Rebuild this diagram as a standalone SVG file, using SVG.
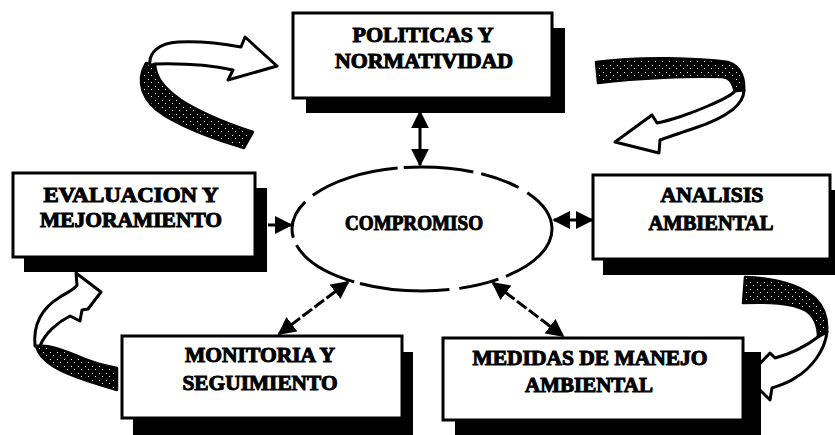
<svg xmlns="http://www.w3.org/2000/svg" width="835" height="435" viewBox="0 0 835 435">
<defs>
<style>
.shadow{fill:#000}
.box{fill:#fff;stroke:#000;stroke-width:3}
.t{font-family:"Liberation Serif","Times New Roman",serif;font-weight:bold;font-size:20px;fill:#000;stroke:#000;stroke-width:1;text-anchor:middle}
.conn{stroke:#000;stroke-width:3;fill:none}
.dash{stroke-dasharray:12 3}
.rib{fill:url(#stip);stroke:#000;stroke-width:2.5;stroke-linejoin:round}
.arr{fill:#fff;stroke:#000;stroke-width:3;stroke-linejoin:round}
</style>
<pattern id="stip" width="7" height="7" patternUnits="userSpaceOnUse">
<rect width="7" height="7" fill="#000"/>
<rect x="1" y="2" width="1" height="1" fill="#fff"/>
<rect x="4" y="5" width="1" height="1" fill="#fff"/>
</pattern>
<marker id="ah" viewBox="0 0 10 10" refX="9" refY="5" markerWidth="18" markerHeight="18" markerUnits="userSpaceOnUse" orient="auto-start-reverse">
<path d="M0,0 L10,5 L0,10 Z" fill="#000"/>
</marker>
</defs>

<g id="curved-arrows">
<g id="loop-top-left">
<path class="rib" d="M146,63 C135,82 142,102 165,116 C190,131 220,141 244,148 L253,132 C226,123 201,113 181,100 C164,88 156,78 155,64 Z"/>
<path class="arr" d="M150,66 C148,52 160,43 178,42 C200,41 225,44 241,47 L245,37 L277,66 L228,80 L233,70 C215,66 195,63 155,64 Z"/>
</g>
<g id="loop-top-right">
<path class="rib" d="M596,62 C640,56 700,58 728,62 C742,66 745,80 744,92 L735,93 C733,83 730,78 722,77 C690,76 640,78 598,83 Z"/>
<path class="arr" d="M744,90 C744,105 725,118 695,128 C680,133 668,137 660,140 L659,153 L615,142 L652,115 L657,123 C668,121 690,114 708,106 C722,100 732,95 735,91 Z"/>
</g>
<g id="loop-bottom-left">
<path class="rib" d="M36,346 C40,362 60,372 85,380 C100,385 110,388 117,390 L117,368 C100,365 86,360 75,355 C60,349 47,345 40,346 Z"/>
<path class="arr" d="M35,346 C33,325 42,308 60,297 C68,292 75,289 77,285 L76,273 L101,292 L88,309 L82,310 L80,321 L70,316 C58,322 45,333 40,346 Z"/>
</g>
<g id="loop-bottom-right">
<path class="rib" d="M745,277 C775,278 800,285 815,298 C825,308 828,320 827,332 L818,337 C818,325 814,316 805,310 C790,303 770,302 743,303 Z"/>
<path class="arr" d="M827,332 C825,350 812,368 795,378 C788,383 778,386 772,388 L770,400 L747,377 L770,353 L775,358 C790,354 805,347 818,337 Z"/>
</g>
</g>

<g id="connectors">
<line class="conn" x1="420" y1="112" x2="420" y2="165" marker-start="url(#ah)" marker-end="url(#ah)"/>
<line class="conn" x1="268" y1="225" x2="291" y2="225" marker-end="url(#ah)"/>
<line class="conn" x1="554" y1="220" x2="592" y2="220" marker-start="url(#ah)" marker-end="url(#ah)"/>
<line class="conn dash" x1="348" y1="282" x2="279" y2="334" marker-start="url(#ah)" marker-end="url(#ah)"/>
<line class="conn dash" x1="493" y1="283" x2="563" y2="336" marker-start="url(#ah)" marker-end="url(#ah)"/>
</g>

<g id="compromiso">
<ellipse cx="422" cy="229" rx="130" ry="62" fill="#fff" stroke="#000" stroke-width="3" stroke-dasharray="70 8 40 10 90 6"/>
<text class="t" x="414" y="230" font-size="18" textLength="138" lengthAdjust="spacingAndGlyphs">COMPROMISO</text>
</g>

<g id="politicas">
<rect class="shadow" x="306" y="28" width="259" height="85"/>
<rect class="box" x="293" y="13" width="259" height="85"/>
<text class="t" x="423" y="42" font-size="22" textLength="141" lengthAdjust="spacingAndGlyphs">POLITICAS Y</text>
<text class="t" x="424" y="68" font-size="22" textLength="178" lengthAdjust="spacingAndGlyphs">NORMATIVIDAD</text>
</g>

<g id="evaluacion">
<rect class="shadow" x="24" y="188" width="243" height="84"/>
<rect class="box" x="13" y="173" width="242" height="84"/>
<text class="t" x="131" y="202" textLength="175" lengthAdjust="spacingAndGlyphs">EVALUACION Y</text>
<text class="t" x="131" y="227" textLength="182" lengthAdjust="spacingAndGlyphs">MEJORAMIENTO</text>
</g>

<g id="analisis">
<rect class="shadow" x="603" y="190" width="240" height="85"/>
<rect class="box" x="593" y="175" width="237" height="84"/>
<text class="t" x="712" y="202" textLength="103" lengthAdjust="spacingAndGlyphs">ANALISIS</text>
<text class="t" x="711" y="230" textLength="125" lengthAdjust="spacingAndGlyphs">AMBIENTAL</text>
</g>

<g id="monitoria">
<rect class="shadow" x="133" y="352" width="280" height="90"/>
<rect class="box" x="122" y="336" width="280" height="82"/>
<text class="t" x="260" y="362" textLength="150" lengthAdjust="spacingAndGlyphs">MONITORIA Y</text>
<text class="t" x="260" y="390" textLength="155" lengthAdjust="spacingAndGlyphs">SEGUIMIENTO</text>
</g>

<g id="medidas">
<rect class="shadow" x="455" y="352" width="306" height="90"/>
<rect class="box" x="443" y="338" width="300" height="82"/>
<text class="t" x="590" y="365" textLength="235" lengthAdjust="spacingAndGlyphs">MEDIDAS DE MANEJO</text>
<text class="t" x="589" y="392" textLength="128" lengthAdjust="spacingAndGlyphs">AMBIENTAL</text>
</g>
</svg>
